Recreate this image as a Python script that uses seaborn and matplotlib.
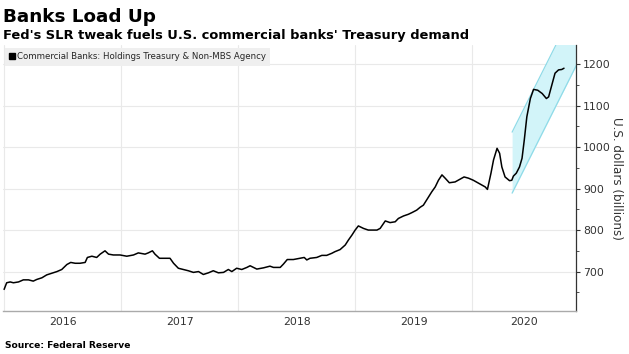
import pandas as pd
import matplotlib.pyplot as plt
import matplotlib.dates as mdates
import seaborn as sns
from matplotlib.lines import Line2D

# holdings of Treasury & non-MBS agency, U.S. dollars (billions)
dates = [
    '2016-01-01', '2016-01-09', '2016-01-20', '2016-01-30', '2016-02-15', '2016-03-01',
    '2016-03-17', '2016-04-01', '2016-04-12', '2016-04-28', '2016-05-13', '2016-05-29',
    '2016-06-14', '2016-06-29', '2016-07-15', '2016-07-27', '2016-08-10', '2016-08-25',
    '2016-09-10', '2016-09-17', '2016-10-01', '2016-10-16', '2016-10-27', '2016-11-11',
    '2016-11-22', '2016-12-07', '2016-12-28', '2017-01-18', '2017-02-08', '2017-02-23',
    '2017-03-16', '2017-03-26', '2017-04-08', '2017-04-16', '2017-04-30', '2017-05-18',
    '2017-06-02', '2017-06-13', '2017-06-28', '2017-07-14', '2017-07-29', '2017-08-14',
    '2017-08-30', '2017-09-14', '2017-09-30', '2017-10-15', '2017-10-31', '2017-11-16',
    '2017-12-01', '2017-12-12', '2017-12-27', '2018-01-12', '2018-01-28', '2018-02-07',
    '2018-02-28', '2018-03-21', '2018-04-10', '2018-04-21', '2018-05-12', '2018-05-22',
    '2018-06-03', '2018-06-22', '2018-07-13', '2018-07-26', '2018-08-03', '2018-08-13',
    '2018-09-03', '2018-09-19', '2018-10-04', '2018-10-20', '2018-10-30', '2018-11-15',
    '2018-12-01', '2018-12-11', '2018-12-22', '2019-01-01', '2019-01-11', '2019-01-27',
    '2019-02-11', '2019-03-10', '2019-03-20', '2019-04-05', '2019-04-20', '2019-05-06',
    '2019-05-16', '2019-06-01', '2019-06-16', '2019-06-27', '2019-07-12', '2019-07-23',
    '2019-08-02', '2019-08-15', '2019-08-28', '2019-09-08', '2019-09-18', '2019-09-29',
    '2019-10-09', '2019-10-22', '2019-11-09', '2019-11-23', '2019-12-07', '2019-12-21',
    '2020-01-05', '2020-01-21', '2020-01-26', '2020-02-11', '2020-02-18', '2020-02-29',
    '2020-03-08', '2020-03-19', '2020-03-27', '2020-04-03', '2020-04-13', '2020-04-27',
    '2020-05-04', '2020-05-09', '2020-05-18', '2020-05-28', '2020-06-05', '2020-06-12',
    '2020-06-20', '2020-07-01', '2020-07-11', '2020-07-24', '2020-08-07', '2020-08-20',
    '2020-08-27', '2020-09-06', '2020-09-16', '2020-09-27', '2020-10-07', '2020-10-14',
]
holdings = [
    657, 673, 675, 673, 675, 680,
    680, 677, 681, 685, 692, 696,
    700, 705, 717, 722, 720, 720,
    722, 734, 737, 734, 742, 750,
    742, 740, 740, 737, 740, 745,
    742, 745, 750, 742, 732, 732,
    732, 720, 708, 705, 702, 698,
    700, 693, 697, 702, 697, 698,
    705, 700, 708, 705, 710, 714,
    706, 709, 713, 710, 710, 718,
    729, 729, 732, 734, 728, 732,
    734, 739, 739, 744, 748, 753,
    764, 776, 788, 800, 810, 804,
    800, 800, 804, 822, 818, 820,
    828, 834, 838, 842, 848, 855,
    860, 876, 892, 904, 920, 933,
    925, 914, 916, 922, 928, 925,
    920, 913, 911, 904, 898, 937,
    969, 997, 985, 952, 928, 919,
    920, 930, 937, 952, 973, 1017,
    1073, 1117, 1139, 1137, 1129, 1117,
    1121, 1149, 1178, 1186, 1187, 1190,
]

# shaded trend channel (edges of the cyan band)
band_dates = ['2020-05-05', '2021-01-01']
band_lower = [889, 1259]
band_upper = [1036, 1406]

years = [2016, 2017, 2018, 2019, 2020]
y_ticks = [700, 800, 900, 1000, 1100, 1200]

df = pd.DataFrame({'date': pd.to_datetime(dates), 'holdings': holdings})
band = pd.DataFrame({'date': pd.to_datetime(band_dates), 'lower': band_lower, 'upper': band_upper})

sns.set_style('white')
plt.rcParams['font.family'] = ['DejaVu Sans']

fig = plt.figure(figsize=(6.29, 3.54), dpi=100)
ax = fig.add_axes([0.005, 0.1215, 0.911, 0.7514])

x_start, x_end = pd.Timestamp('2015-12-29'), pd.Timestamp('2020-11-21')

# cyan band
ax.fill_between(band['date'], band['lower'], band['upper'], color='#d2f4f9', lw=0, zorder=1)
ax.plot(band['date'], band['lower'], color='#8fdbe8', lw=0.9, zorder=1)
ax.plot(band['date'], band['upper'], color='#8fdbe8', lw=0.9, zorder=1)

# main line
sns.lineplot(data=df, x='date', y='holdings', color='black', linewidth=1.1, ax=ax, zorder=3)

ax.set_xlim(x_start, x_end)
ax.set_ylim(605, 1246)

# grid and ticks
ax.set_yticks(y_ticks)
ax.set_yticks(range(650, 1250, 100), minor=True)
ax.xaxis.set_major_locator(mdates.YearLocator())
ax.xaxis.set_minor_locator(mdates.MonthLocator(bymonth=[4, 7, 10]))
ax.xaxis.set_major_formatter(plt.NullFormatter())
ax.grid(True, which='major', color='#e9e9e9', lw=0.8)
ax.set_axisbelow(True)

# right axis look
ax.yaxis.tick_right()
ax.tick_params(axis='y', which='major', length=3, width=0.8, color='#333333', labelsize=7.8,
               labelcolor='#333333', pad=2)
ax.tick_params(axis='y', which='minor', length=2, width=0.6, color='#333333')
ax.tick_params(axis='x', which='major', length=24, width=0.6, color='#dcdcdc')
ax.tick_params(axis='x', which='minor', length=3, width=0.6, color='#999999')
for s in ['top', 'left']:
    ax.spines[s].set_visible(False)
ax.spines['right'].set_color('#333333')
ax.spines['right'].set_linewidth(0.9)
ax.spines['bottom'].set_color('#aaaaaa')
ax.spines['bottom'].set_linewidth(1.0)

ax.set_xlabel('')
ax.set_ylabel('')
fig.text(617 / 629, 0.497, 'U.S. dollars (billions)', rotation=270, fontsize=8.6,
         color='#333333', ha='center', va='center')

# year labels centred in the visible part of each year
for yr in years:
    lo = max(pd.Timestamp(f'{yr}-01-01'), x_start)
    hi = min(pd.Timestamp(f'{yr + 1}-01-01'), x_end)
    ax.text(lo + (hi - lo) / 2, -0.022, str(yr), transform=ax.get_xaxis_transform(),
            ha='center', va='top', fontsize=7.8, color='#333333')

# legend box
handle = Line2D([], [], marker='s', color='black', lw=0, markersize=4)
leg = ax.legend([handle], ['Commercial Banks: Holdings Treasury & Non-MBS Agency'],
                loc='upper left', bbox_to_anchor=(0.0, 0.995), frameon=True, fancybox=False,
                fontsize=6.2, handlelength=0.6, handletextpad=0.3, borderpad=0.5,
                borderaxespad=0.2)
leg.get_frame().set_facecolor('#efefef')
leg.get_frame().set_edgecolor('none')
leg.get_frame().set_alpha(1)

# titles and source
fig.text(0.005, 0.978, 'Banks Load Up', fontsize=13.2, weight='bold', color='black',
         ha='left', va='top')
fig.text(0.005, 0.918, "Fed's SLR tweak fuels U.S. commercial banks' Treasury demand",
         fontsize=9.4, weight='bold', color='black', ha='left', va='top')
fig.text(0.008, 0.012, 'Source: Federal Reserve', fontsize=6.6, weight='bold', color='black',
         ha='left', va='bottom')

plt.savefig('out.png', dpi=100)
